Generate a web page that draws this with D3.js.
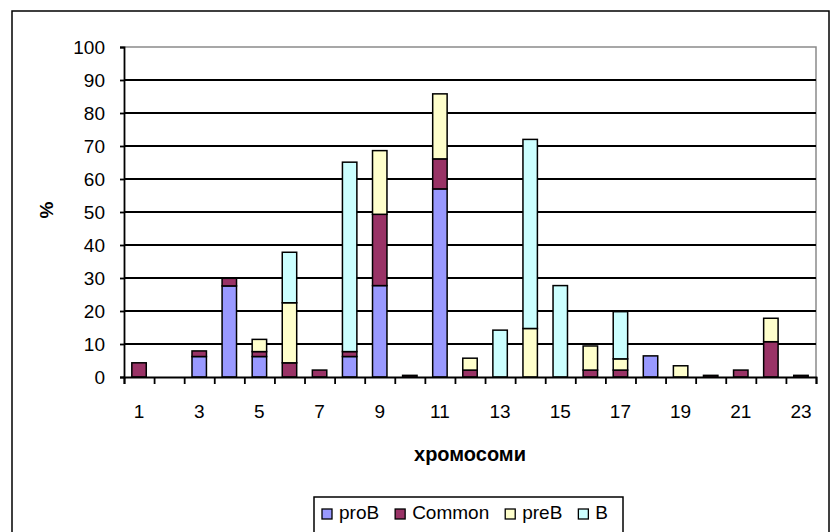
<!DOCTYPE html>
<html>
<head>
<meta charset="utf-8">
<script src="https://cdn.jsdelivr.net/npm/d3@7"></script>
<style>
  html, body { margin: 0; padding: 0; background: #fff; }
  svg { display: block; }
  text { font-family: "Liberation Sans", Arial, sans-serif; fill: #000; }
</style>
</head>
<body>
<svg id="chart" width="834" height="532"></svg>
<script>
// Chromosome numbers (x categories)
const categories = [1, 2, 3, 4, 5, 6, 7, 8, 9, 10, 11, 12, 13, 14, 15, 16, 17, 18, 19, 20, 21, 22, 23];
const xTickLabels = [1, 3, 5, 7, 9, 11, 13, 15, 17, 19, 21, 23];
const yTickValues = [0, 10, 20, 30, 40, 50, 60, 70, 80, 90, 100];

// Percentages per cell type, stacked bottom to top
const seriesNames = ["proB", "Common", "preB", "B"];
const proB   = [0, 0, 6.2, 27.6, 6.2, 0, 0, 6.2, 27.7, 0, 57.0, 0, 0, 0, 0, 0, 0, 6.4, 0, 0, 0, 0, 0];
const common = [4.3, 0, 1.7, 2.3, 1.5, 4.3, 2.1, 1.5, 21.6, 0.5, 9.1, 2.1, 0, 0, 0, 2.1, 2.1, 0, 0, 0.5, 2.1, 10.7, 0.5];
const preB   = [0, 0, 0, 0, 3.7, 18.2, 0, 0, 19.3, 0, 19.7, 3.6, 0, 14.7, 0, 7.3, 3.4, 0, 3.4, 0, 0, 7.1, 0];
const bCells = [0, 0, 0, 0, 0, 15.3, 0, 57.4, 0, 0, 0, 0, 14.2, 57.3, 27.7, 0, 14.3, 0, 0, 0, 0, 0, 0];
const colors = ["#9999FF", "#993366", "#FFFFCC", "#CCFFFF"];

const table = categories.map((c, i) => ({
  cat: c, proB: proB[i], Common: common[i], preB: preB[i], B: bCells[i]
}));

const svg = d3.select("#chart");

// outer chart frame
svg.append("rect")
  .attr("x", 12).attr("y", 11).attr("width", 817).attr("height", 540)
  .attr("fill", "#fff").attr("stroke", "#000").attr("stroke-width", 1.5);

const plot = { left: 124, right: 816, top: 47, bottom: 377 };

const x = d3.scaleBand()
  .domain(categories)
  .range([plot.left, plot.right])
  .paddingInner(0.52)
  .paddingOuter(0.26);

// continuous helper for tick marks between categories
const xEdges = d3.scaleLinear()
  .domain([0.5, categories.length + 0.5])
  .range([plot.left, plot.right]);

const y = d3.scaleLinear().domain([0, 100]).range([plot.bottom, plot.top]);

// plot area border (top and right)
svg.append("path")
  .attr("d", `M${plot.left},${plot.top}H${plot.right}V${plot.bottom}`)
  .attr("fill", "none").attr("stroke", "#8a8a8a").attr("stroke-width", 1.5);

// horizontal gridlines
svg.append("g")
  .selectAll("line")
  .data(yTickValues.filter(v => v > 0 && v < 100))
  .join("line")
  .attr("x1", plot.left).attr("x2", plot.right)
  .attr("y1", d => y(d)).attr("y2", d => y(d))
  .attr("stroke", "#000").attr("stroke-width", 1.8);

// stacked bars
const stack = d3.stack().keys(seriesNames)(table);
const layers = svg.append("g")
  .selectAll("g")
  .data(stack)
  .join("g")
  .attr("fill", (d, i) => colors[i]);

layers.selectAll("rect")
  .data(d => d.filter(s => s[1] - s[0] > 0))
  .join("rect")
  .attr("x", d => x(d.data.cat))
  .attr("width", x.bandwidth())
  .attr("y", d => y(d[1]))
  .attr("height", d => y(d[0]) - y(d[1]))
  .attr("stroke", "#000")
  .attr("stroke-width", 1.5);

// y axis
const yAxis = svg.append("g")
  .attr("transform", `translate(${plot.left},0)`)
  .call(d3.axisLeft(y).tickValues(yTickValues).tickSize(4).tickPadding(15));
yAxis.select(".domain").attr("stroke", "#000").attr("stroke-width", 1.8);
yAxis.selectAll(".tick line").attr("stroke", "#000").attr("stroke-width", 1.8);
yAxis.selectAll(".tick text")
  .style("font-family", "'Liberation Sans', Arial, sans-serif")
  .style("font-size", "19px").attr("fill", "#000");

// x axis: tick marks on category boundaries
const xAxisTicks = svg.append("g")
  .attr("transform", `translate(0,${plot.bottom})`)
  .call(d3.axisBottom(xEdges)
    .tickValues(d3.range(0.5, categories.length + 1, 1))
    .tickSize(7).tickFormat(""));
xAxisTicks.select(".domain").attr("stroke", "#000").attr("stroke-width", 1.8);
xAxisTicks.selectAll(".tick line").attr("stroke", "#000").attr("stroke-width", 1.8);

// x axis: category labels
const xAxisLabels = svg.append("g")
  .attr("transform", `translate(0,${plot.bottom})`)
  .call(d3.axisBottom(x).tickValues(xTickLabels).tickSize(0).tickPadding(28));
xAxisLabels.select(".domain").remove();
xAxisLabels.selectAll(".tick text")
  .style("font-family", "'Liberation Sans', Arial, sans-serif")
  .style("font-size", "19px").attr("fill", "#000");

// axis titles
svg.append("text")
  .attr("x", (plot.left + plot.right) / 2)
  .attr("y", 461)
  .attr("text-anchor", "middle")
  .style("font-size", "20px").style("font-weight", "bold")
  .text("хромосоми");

svg.append("text")
  .attr("transform", `translate(53,${(plot.top + plot.bottom) / 2 - 2}) rotate(-90)`)
  .attr("text-anchor", "middle")
  .style("font-size", "19px").style("font-weight", "bold")
  .text("%");

// legend
const legend = svg.append("g");
legend.append("rect")
  .attr("x", 314).attr("y", 497).attr("width", 309).attr("height", 60)
  .attr("fill", "#fff").attr("stroke", "#000").attr("stroke-width", 1.5);

let lx = 322;
seriesNames.forEach((name, i) => {
  legend.append("rect")
    .attr("x", lx).attr("y", 509).attr("width", 10).attr("height", 10)
    .attr("fill", colors[i]).attr("stroke", "#000").attr("stroke-width", 1.3);
  const t = legend.append("text")
    .attr("x", lx + 17).attr("y", 519)
    .style("font-size", "19px")
    .text(name);
  lx += 17 + t.node().getComputedTextLength() + 16;
});
</script>
</body>
</html>
